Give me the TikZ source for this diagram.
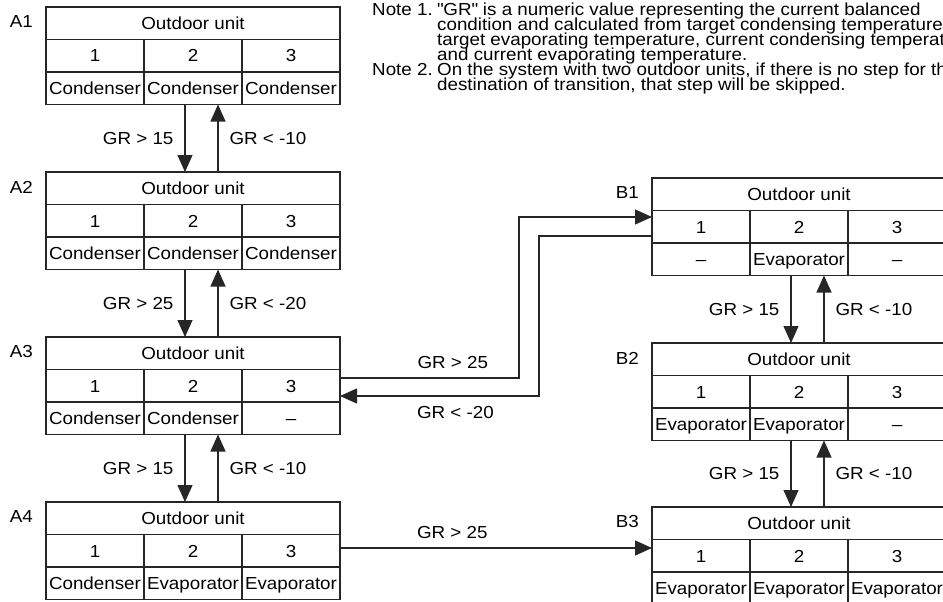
\documentclass[tikz,border=0pt]{standalone}
\usepackage{fontspec}
\setmainfont{Liberation Sans}[FakeStretch=1.08]
\usetikzlibrary{arrows.meta,positioning}

\newcommand{\boxfont}{\fontsize{17.4}{21}\selectfont}
\newcommand{\notefont}{\fontsize{17.4}{15}\selectfont}

% one outdoor unit table: name, top left corner, the three unit roles
\newcommand{\outdoorunit}[5]{%
  \node[unittitle] (#1) at (#2) {Outdoor unit};
  \node[steptag] (#1-tag) at ([xshift=-13pt,yshift=-15pt]#1.north west) {#1};
  \node[unitcell] (#1-1) at (#1.south west) {1};
  \node[unitcell] (#1-2) at (#1-1.north east) {2};
  \node[unitcell] (#1-3) at (#1-2.north east) {3};
  \node[unitcell] (#1-a) at (#1-1.south west) {#3};
  \node[unitcell] (#1-b) at (#1-a.north east) {#4};
  \node[unitcell] (#1-c) at (#1-b.north east) {#5};
}

\begin{document}
\begin{tikzpicture}[x=1pt, y=-1pt,
unittitle/.style={draw=black!85, line width=1.1pt, minimum width=294pt, minimum height=32.5pt,
  inner sep=0pt, outer sep=0pt, anchor=north west, font=\boxfont, text height=12.5pt, text depth=0pt},
unitcell/.style={unittitle, minimum width=98pt},
steptag/.style={anchor=east, inner sep=0pt, font=\boxfont},
grlabel/.style={inner sep=0pt, font=\boxfont},
notetext/.style={anchor=base west, inner sep=0pt, font=\notefont},
trans/.style={draw=black!85, line width=1.1pt, -{Triangle[length=17pt,width=15pt]}},
]
\useasboundingbox (0,0) rectangle (943,602);
\clip (0,0) rectangle (943,602);

%Notes
\node[notetext] (note1) at (372,15.5) {Note 1.};
\node[notetext] (note2) at (372,75.5) {Note 2.};
\foreach \txt [count=\i from 0] in {%
  {\textquotedbl GR\textquotedbl{} is a numeric value representing the current balanced},
  {condition and calculated from target condensing temperature,},
  {target evaporating temperature, current condensing temperature,},
  {and current evaporating temperature.},
  {On the system with two outdoor units, if there is no step for the},
  {destination of transition, that step will be skipped.}}
  \node[notetext] (note-\i) at (437,15.5+15*\i) {\txt};

%Units
\outdoorunit{A1}{46,7}{Condenser}{Condenser}{Condenser}
\outdoorunit{A2}{46,172}{Condenser}{Condenser}{Condenser}
\outdoorunit{A3}{46,337}{Condenser}{Condenser}{--}
\outdoorunit{A4}{46,502}{Condenser}{Evaporator}{Evaporator}
\outdoorunit{B1}{652,178}{--}{Evaporator}{--}
\outdoorunit{B2}{652,343}{Evaporator}{Evaporator}{--}
\outdoorunit{B3}{652,507}{Evaporator}{Evaporator}{Evaporator}

%Steps up and down
\foreach \a/\b/\dn/\up in {A1/A2/15/10, A2/A3/25/20, A3/A4/15/10, B1/B2/15/10, B2/B3/15/10} {
  \draw[trans] ([xshift=41pt]\a-b.south west) -- ([xshift=41pt]\a-b.south west |- \b.north)
    node[grlabel, midway, left=11pt] (\a-dn) {GR > \dn};
  \draw[trans] ([xshift=74pt]\a-b.south west |- \b.north) -- ([xshift=74pt]\a-b.south west)
    node[grlabel, midway, right=11pt] (\a-up) {GR < -\up};
}

%Jumps between the two systems
\draw[trans] ([yshift=-41pt]A3.north east) -- ++(179,0)
  node[grlabel, pos=0.63, above=9pt] (A3-jump) {GR > 25}
  |- ([yshift=-39pt]B1.north west);
\draw[trans] ([yshift=-58pt]B1.north west) -- ++(-113,0) |- ([yshift=-59pt]A3.north east)
  node[grlabel, pos=0.71, below=10pt] (B1-jump) {GR < -20};
\draw[trans] ([yshift=-46pt]A4.north east) -- ([yshift=-41pt]B3.north west)
  node[grlabel, pos=0.36, above=9pt] (A4-jump) {GR > 25};
\end{tikzpicture}
\end{document}
